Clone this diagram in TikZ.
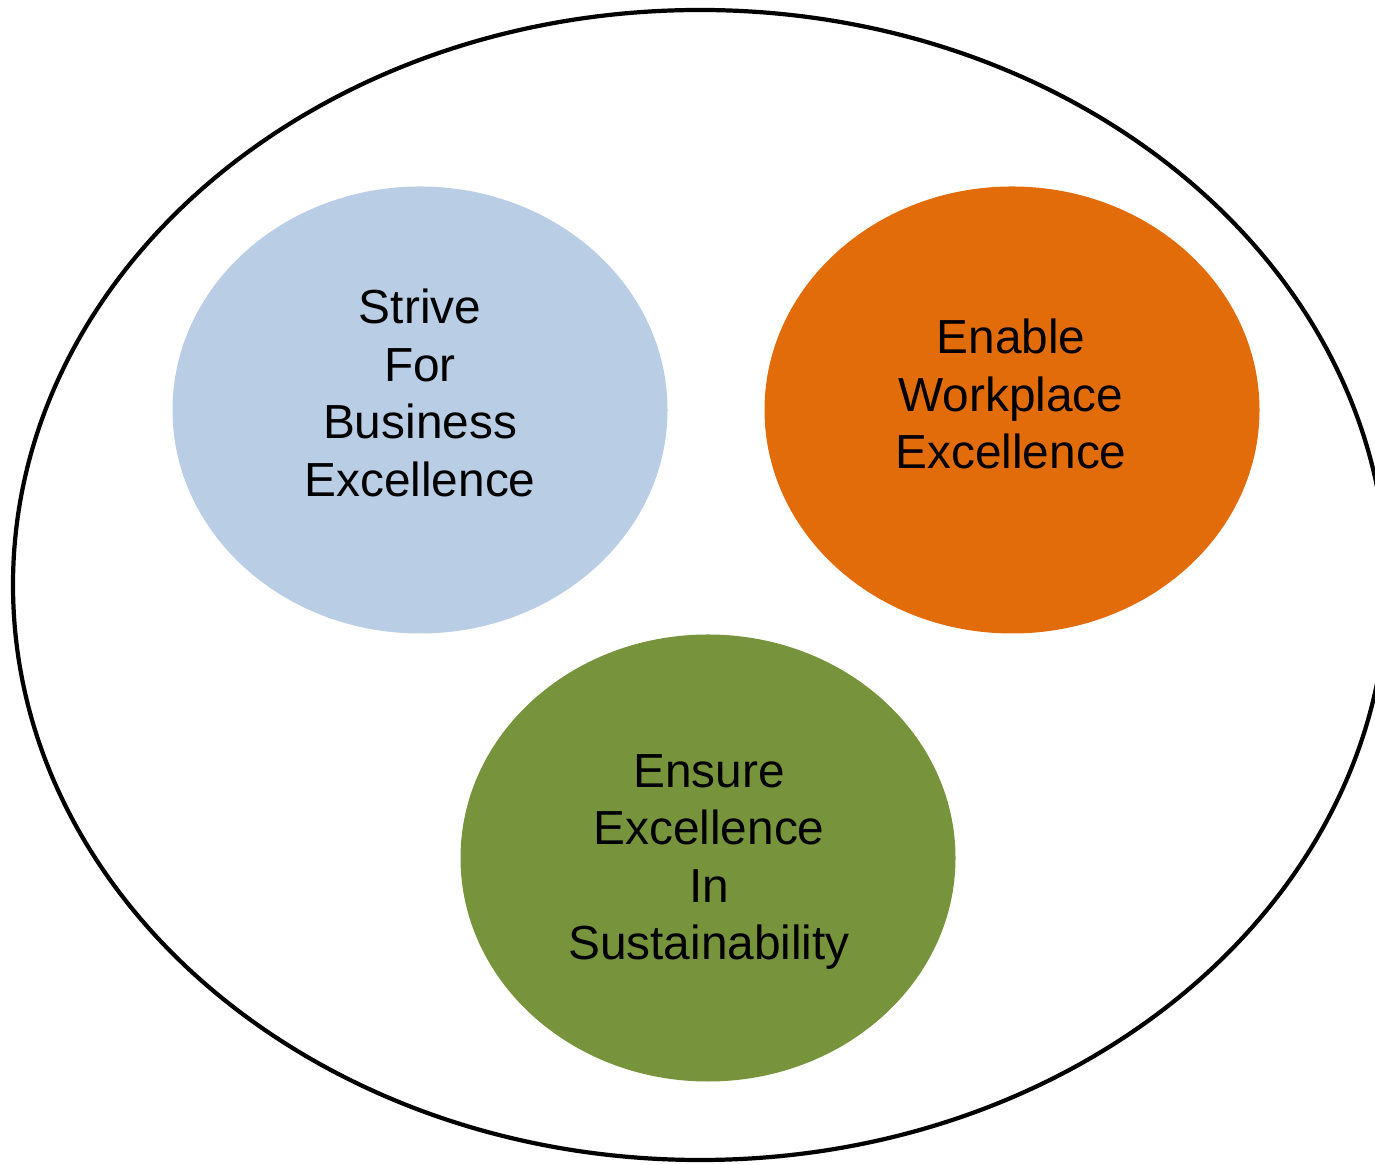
\documentclass[tikz,border=0pt]{standalone}
\usepackage{fontspec}
\setmainfont{Liberation Sans}
\usepgflibrary{shapes.geometric}
\usetikzlibrary{calc}
\definecolor{bizblue}{HTML}{B9CDE4}
\definecolor{workorange}{HTML}{E36C0A}
\definecolor{sustgreen}{HTML}{77933C}

\begin{document}
\begin{tikzpicture}
	\tikzset{blob/.style={ellipse,minimum width=4.95cm,minimum height=4.47cm,inner sep=0pt},
		lbl/.style={align=center,font=\fontsize{13.6}{16.4}\selectfont}}
	\useasboundingbox (0,0) rectangle (13.75,11.64);
	\clip (0,0) rectangle (13.75,11.64);
	\coordinate (O) at (7.00,5.79);
	\draw[line width=1.2pt] (O) ellipse [x radius=6.87, y radius=5.75];
	\node[blob,fill=bizblue] (biz) at (4.20,7.54) {};
	\node[blob,fill=workorange] (work) at (10.12,7.54) {};
	\node[blob,fill=sustgreen] (sust) at (7.08,3.06) {};
	\node[lbl] (bizt) at ($(biz)+(0,0.17)$) {Strive\\For\\Business\\Excellence};
	\node[lbl] (workt) at ($(work)+(-0.01,0.16)$) {Enable\\Workplace\\Excellence};
	\node[lbl] (sustt) at ($(sust)+(0.01,-0.04)$) {Ensure\\Excellence\\In\\Sustainability};
\end{tikzpicture}
\end{document}
